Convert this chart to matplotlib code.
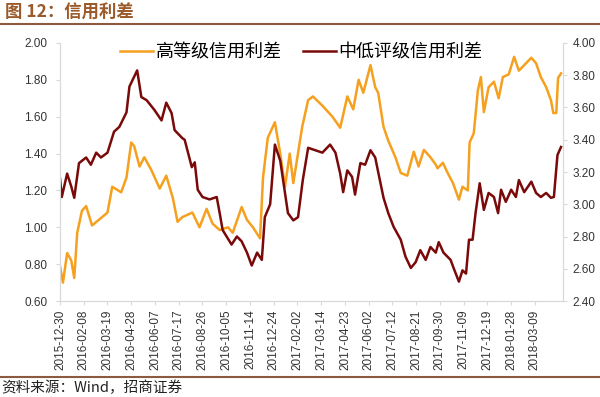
import matplotlib
matplotlib.use("Agg")
import matplotlib.pyplot as plt
import pandas as pd
from matplotlib.lines import Line2D

plt.rcParams['font.family'] = ['Liberation Sans', 'Noto Sans CJK SC', 'DejaVu Sans']

# 高等级信用利差 (左轴)
hg_dates = ["2015-12-30", "2016-01-04", "2016-01-11", "2016-01-18", "2016-01-23", "2016-01-28",
            "2016-02-05", "2016-02-12", "2016-02-22", "2016-03-08", "2016-03-19", "2016-03-27",
            "2016-04-11", "2016-04-20", "2016-04-28", "2016-05-03", "2016-05-12", "2016-05-20",
            "2016-06-01", "2016-06-15", "2016-06-26", "2016-07-07", "2016-07-15", "2016-07-23",
            "2016-08-09", "2016-08-21", "2016-09-02", "2016-09-12", "2016-09-24", "2016-10-08",
            "2016-10-16", "2016-10-31", "2016-11-09", "2016-11-19", "2016-12-01", "2016-12-06",
            "2016-12-14", "2016-12-26", "2017-01-04", "2017-01-12", "2017-01-20", "2017-01-26",
            "2017-02-10", "2017-02-20", "2017-02-28", "2017-03-16", "2017-04-02", "2017-04-15",
            "2017-04-27", "2017-05-07", "2017-05-16", "2017-05-24", "2017-06-05", "2017-06-13",
            "2017-06-18", "2017-06-27", "2017-07-05", "2017-07-17", "2017-07-26", "2017-08-06",
            "2017-08-17", "2017-08-25", "2017-09-03", "2017-09-14", "2017-09-23", "2017-09-26",
            "2017-10-05", "2017-10-13", "2017-10-22", "2017-11-01", "2017-11-07", "2017-11-16",
            "2017-11-19", "2017-11-26", "2017-12-03", "2017-12-08", "2017-12-13", "2017-12-21",
            "2017-12-30", "2018-01-07", "2018-01-14", "2018-01-24", "2018-02-02", "2018-02-10",
            "2018-02-19", "2018-03-03", "2018-03-11", "2018-03-19", "2018-03-28", "2018-04-05",
            "2018-04-09", "2018-04-14", "2018-04-17", "2018-04-22"]
hg_vals = [0.79, 0.70, 0.86, 0.82, 0.725, 0.97,
           1.09, 1.115, 1.01, 1.05, 1.08, 1.22,
           1.19, 1.27, 1.46, 1.44, 1.33, 1.38,
           1.31, 1.21, 1.28, 1.16, 1.03, 1.055,
           1.08, 1.00, 1.10, 1.02, 0.985, 1.00,
           0.97, 1.11, 1.04, 1.00, 0.94, 1.27,
           1.485, 1.57, 1.40, 1.22, 1.40, 1.24,
           1.545, 1.69, 1.71, 1.66, 1.60, 1.54,
           1.71, 1.64, 1.80, 1.73, 1.88, 1.76,
           1.73, 1.545, 1.47, 1.38, 1.295, 1.28,
           1.41, 1.33, 1.42, 1.38, 1.34, 1.32,
           1.35, 1.295, 1.24, 1.15, 1.22, 1.20,
           1.46, 1.51, 1.745, 1.815, 1.625, 1.76,
           1.79, 1.70, 1.815, 1.83, 1.925, 1.85,
           1.88, 1.92, 1.89, 1.815, 1.76, 1.69,
           1.62, 1.62, 1.81, 1.835]

# 中低评级信用利差 (右轴)
lg_dates = ["2015-12-30", "2016-01-02", "2016-01-11", "2016-01-18", "2016-01-23", "2016-01-31",
            "2016-02-12", "2016-02-20", "2016-02-29", "2016-03-08", "2016-03-19", "2016-03-30",
            "2016-04-08", "2016-04-20", "2016-04-25", "2016-05-08", "2016-05-15", "2016-05-24",
            "2016-06-06", "2016-06-18", "2016-06-26", "2016-07-05", "2016-07-10", "2016-07-23",
            "2016-07-27", "2016-08-08", "2016-08-13", "2016-08-18", "2016-08-26", "2016-09-07",
            "2016-09-19", "2016-09-24", "2016-09-29", "2016-10-14", "2016-10-23", "2016-10-31",
            "2016-11-09", "2016-11-17", "2016-11-26", "2016-12-04", "2016-12-09", "2016-12-18",
            "2016-12-26", "2017-01-04", "2017-01-12", "2017-01-17", "2017-01-26", "2017-02-03",
            "2017-02-11", "2017-02-20", "2017-03-04", "2017-03-16", "2017-03-29", "2017-04-07",
            "2017-04-15", "2017-04-20", "2017-04-27", "2017-05-05", "2017-05-10", "2017-05-19",
            "2017-05-27", "2017-06-05", "2017-06-13", "2017-06-18", "2017-06-27", "2017-07-05",
            "2017-07-14", "2017-07-26", "2017-08-03", "2017-08-12", "2017-08-20", "2017-08-28",
            "2017-09-06", "2017-09-14", "2017-09-23", "2017-09-28", "2017-10-06", "2017-10-18",
            "2017-10-23", "2017-11-01", "2017-11-07", "2017-11-13", "2017-11-18", "2017-11-24",
            "2017-11-29", "2017-12-06", "2017-12-13", "2017-12-21", "2017-12-30", "2018-01-06",
            "2018-01-11", "2018-01-19", "2018-01-28", "2018-02-05", "2018-02-10", "2018-02-19",
            "2018-03-03", "2018-03-11", "2018-03-19", "2018-03-28", "2018-04-05", "2018-04-10",
            "2018-04-16", "2018-04-22"]
lg_vals = [3.16, 3.045, 3.19, 3.11, 3.04, 3.255,
           3.29, 3.245, 3.32, 3.29, 3.32, 3.45,
           3.48, 3.57, 3.73, 3.83, 3.665, 3.645,
           3.585, 3.52, 3.63, 3.565, 3.46, 3.41,
           3.40, 3.23, 3.26, 3.09, 3.045, 3.03,
           3.045, 2.945, 2.84, 2.75, 2.80, 2.77,
           2.70, 2.62, 2.70, 2.655, 2.92, 3.00,
           3.37, 3.27, 3.07, 2.945, 2.90, 2.92,
           3.15, 3.35, 3.335, 3.32, 3.37, 3.32,
           3.19, 3.075, 3.21, 3.17, 3.06, 3.255,
           3.245, 3.335, 3.29, 3.20, 3.04, 2.945,
           2.86, 2.78, 2.675, 2.605, 2.64, 2.715,
           2.655, 2.735, 2.70, 2.765, 2.70, 2.655,
           2.605, 2.52, 2.59, 2.57, 2.78, 2.78,
           2.945, 3.13, 2.965, 3.07, 3.045, 2.945,
           3.09, 3.015, 3.09, 3.045, 3.15, 3.075,
           3.14, 3.07, 3.045, 3.07, 3.04, 3.045,
           3.305, 3.355]

left_ticks = [0.60, 0.80, 1.00, 1.20, 1.40, 1.60, 1.80, 2.00]
right_ticks = [2.40, 2.60, 2.80, 3.00, 3.20, 3.40, 3.60, 3.80, 4.00]

c_hg = '#F5A01E'
c_lg = '#7A0A0A'
c_brown = '#8C5A3C'

hg = pd.Series(hg_vals, index=pd.to_datetime(hg_dates))
lg = pd.Series(lg_vals, index=pd.to_datetime(lg_dates))

fig = plt.figure(figsize=(6.0, 3.97), dpi=100)
ax = fig.add_axes([0.1, 0.2418, 0.838, 0.6499])
ax2 = ax.twinx()

ax.plot(hg.index, hg.values, color=c_hg, lw=1.8)
ax2.plot(lg.index, lg.values, color=c_lg, lw=1.8)

ax.set_ylim(0.6, 2.0)
ax.set_yticks(left_ticks)
ax.set_yticklabels([f"{v:.2f}" for v in left_ticks])
ax2.set_ylim(2.4, 4.0)
ax2.set_yticks(right_ticks)
ax2.set_yticklabels([f"{v:.2f}" for v in right_ticks])

start = pd.Timestamp("2015-12-30")
ax.set_xlim(start, pd.Timestamp("2018-04-25"))
xt = pd.date_range(start, periods=21, freq="40D")
ax.set_xticks(xt)
ax.set_xticklabels([d.strftime("%Y-%m-%d") for d in xt], rotation=90)

for a in (ax, ax2):
    for s in a.spines.values():
        s.set_color('#D9D9D9')
        s.set_linewidth(0.8)
    a.spines['top'].set_visible(False)
    a.tick_params(labelsize=8.5, labelcolor='#333333', length=3, width=0.8, color='#D9D9D9')

ax.tick_params(axis='y', pad=6)
ax2.tick_params(axis='y', pad=4)
ax.tick_params(axis='x', pad=3)

handles = [Line2D([], [], color=c_hg, lw=1.8), Line2D([], [], color=c_lg, lw=1.8)]
ax.legend(handles, ["高等级信用利差", "中低评级信用利差"], loc='upper center',
          bbox_to_anchor=(0.48, 1.06), ncol=2, frameon=False,
          handlelength=1.8, handletextpad=0.15, columnspacing=1.2,
          prop={'family': ['Noto Sans CJK SC'], 'size': 13})

fig.text(0.008, 0.967, "图 12：信用利差", fontsize=12.5, fontweight='bold', color='#9A5A2A',
         family=['Noto Sans CJK SC'], va='center', ha='left')
fig.add_artist(Line2D([0, 1], [0.94, 0.94], color=c_brown, lw=1.5, transform=fig.transFigure))
fig.add_artist(Line2D([0, 1], [0.05, 0.05], color=c_brown, lw=1.5, transform=fig.transFigure))
fig.text(0.002, 0.022, "资料来源：Wind，招商证券", fontsize=10.5, color='#222222',
         family=['Noto Sans CJK SC'], va='center', ha='left')

fig.savefig("out.png", dpi=100)
